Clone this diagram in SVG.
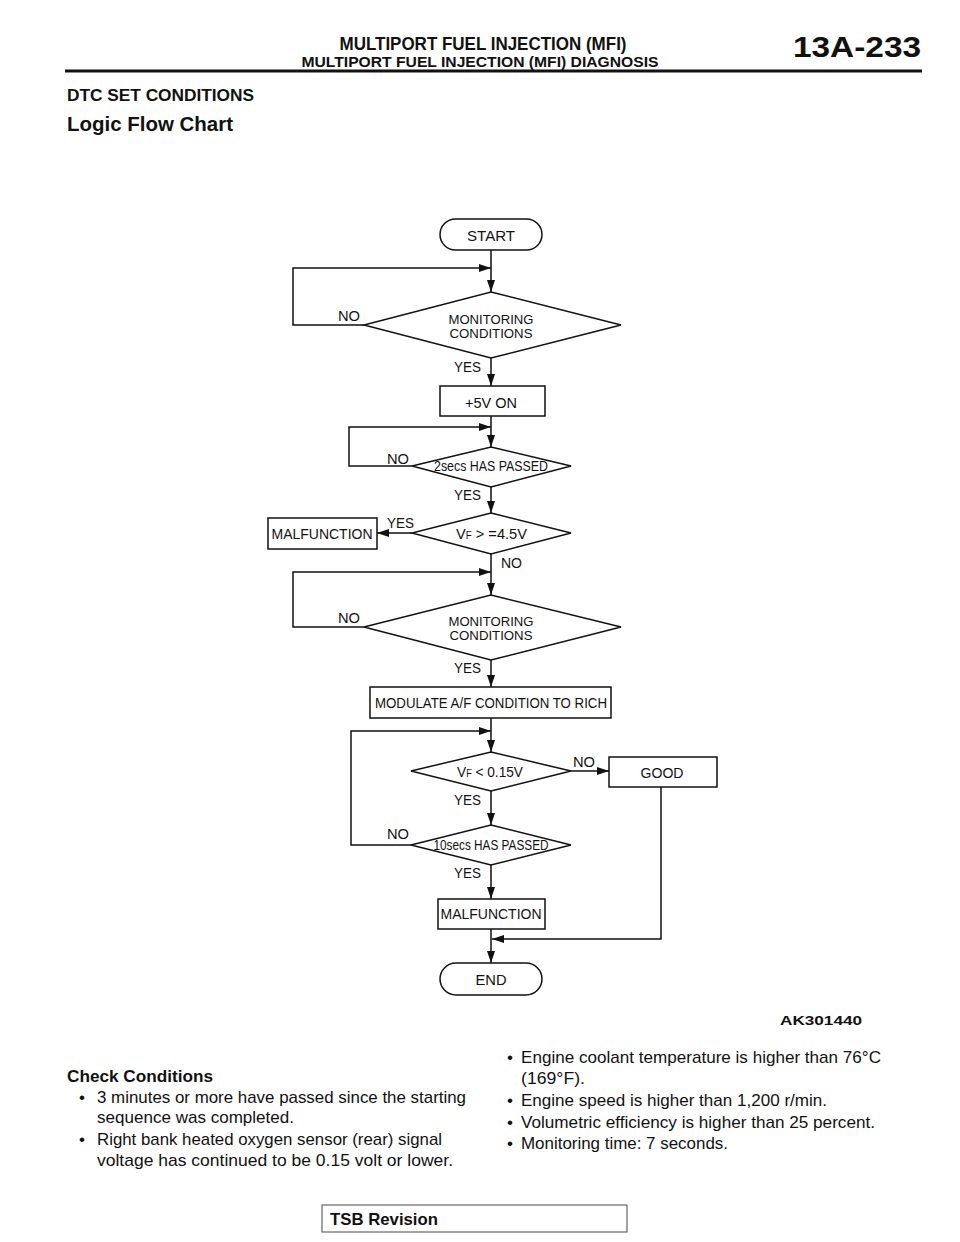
<svg xmlns="http://www.w3.org/2000/svg" width="960" height="1242" viewBox="0 0 960 1242">
<style>
text{font-family:"Liberation Sans",Arial,sans-serif;fill:#111}
.b{font-weight:bold}
.fc{font-size:14px;text-anchor:middle}
.dm{font-size:12.5px;text-anchor:middle}
.lb{font-size:14px}
.sh{fill:#fff;stroke:#111;stroke-width:1.5}
.ln{fill:none;stroke:#111;stroke-width:1.5}
.body{font-size:17px}
</style>
<defs>
<marker id="ah" viewBox="0 0 12 8" refX="12" refY="4" markerWidth="12" markerHeight="8" markerUnits="userSpaceOnUse" orient="auto">
<path d="M0,0 L12,4 L0,8 Z" fill="#111"/>
</marker>
</defs>
<rect width="960" height="1242" fill="#fff"/>
<g id="header">
<text class="b" x="483" y="50" font-size="18" text-anchor="middle" textLength="287" lengthAdjust="spacingAndGlyphs">MULTIPORT FUEL INJECTION (MFI)</text>
<text class="b" x="480" y="67" font-size="15" text-anchor="middle" textLength="357" lengthAdjust="spacingAndGlyphs">MULTIPORT FUEL INJECTION (MFI) DIAGNOSIS</text>
<text class="b" x="793" y="57" font-size="30" textLength="128" lengthAdjust="spacingAndGlyphs">13A-233</text>
<line x1="65" y1="71" x2="922" y2="71" stroke="#111" stroke-width="3"/>
<text class="b" x="67" y="101" font-size="16" textLength="187" lengthAdjust="spacingAndGlyphs">DTC SET CONDITIONS</text>
<text class="b" x="67" y="131" font-size="20" textLength="166" lengthAdjust="spacingAndGlyphs">Logic Flow Chart</text>
</g>
<g id="connectors">
<line class="ln" x1="491" y1="250" x2="491" y2="292" marker-end="url(#ah)"/>
<polyline class="ln" points="364,325 293,325 293,268 491,268" marker-end="url(#ah)"/>
<line class="ln" x1="491" y1="358" x2="491" y2="386" marker-end="url(#ah)"/>
<line class="ln" x1="491" y1="416" x2="491" y2="447" marker-end="url(#ah)"/>
<polyline class="ln" points="412,466 349,466 349,427 491,427" marker-end="url(#ah)"/>
<line class="ln" x1="491" y1="487" x2="491" y2="513" marker-end="url(#ah)"/>
<line class="ln" x1="412" y1="533" x2="377" y2="533" marker-end="url(#ah)"/>
<line class="ln" x1="491" y1="554" x2="491" y2="595" marker-end="url(#ah)"/>
<polyline class="ln" points="364,627 293,627 293,572 491,572" marker-end="url(#ah)"/>
<line class="ln" x1="491" y1="660" x2="491" y2="687" marker-end="url(#ah)"/>
<line class="ln" x1="491" y1="718" x2="491" y2="752" marker-end="url(#ah)"/>
<polyline class="ln" points="411,845 351,845 351,731 491,731" marker-end="url(#ah)"/>
<line class="ln" x1="571" y1="771" x2="609" y2="771" marker-end="url(#ah)"/>
<line class="ln" x1="491" y1="791" x2="491" y2="825" marker-end="url(#ah)"/>
<line class="ln" x1="491" y1="865" x2="491" y2="899" marker-end="url(#ah)"/>
<line class="ln" x1="491" y1="929" x2="491" y2="963" marker-end="url(#ah)"/>
<polyline class="ln" points="661,787 661,939 492,939" marker-end="url(#ah)"/>
<text class="lb" x="338" y="321" textLength="22" lengthAdjust="spacingAndGlyphs">NO</text>
<text class="lb" x="454" y="372" textLength="27" lengthAdjust="spacingAndGlyphs">YES</text>
<text class="lb" x="387" y="464" textLength="22" lengthAdjust="spacingAndGlyphs">NO</text>
<text class="lb" x="454" y="500" textLength="27" lengthAdjust="spacingAndGlyphs">YES</text>
<text class="lb" x="387" y="528" textLength="27" lengthAdjust="spacingAndGlyphs">YES</text>
<text class="lb" x="501" y="568" textLength="21" lengthAdjust="spacingAndGlyphs">NO</text>
<text class="lb" x="338" y="623" textLength="22" lengthAdjust="spacingAndGlyphs">NO</text>
<text class="lb" x="454" y="673" textLength="27" lengthAdjust="spacingAndGlyphs">YES</text>
<text class="lb" x="573" y="767" textLength="22" lengthAdjust="spacingAndGlyphs">NO</text>
<text class="lb" x="454" y="805" textLength="27" lengthAdjust="spacingAndGlyphs">YES</text>
<text class="lb" x="387" y="839" textLength="22" lengthAdjust="spacingAndGlyphs">NO</text>
<text class="lb" x="454" y="878" textLength="27" lengthAdjust="spacingAndGlyphs">YES</text>
</g>
<g id="start">
<rect class="sh" x="440" y="219" width="102" height="31" rx="15.5"/>
<text class="fc" x="491" y="241" font-size="16" textLength="48" lengthAdjust="spacingAndGlyphs">START</text>
</g>
<g id="monitoring1">
<polygon class="sh" points="491,292 621,325 491,358 364,325"/>
<text class="dm" x="491" y="324" textLength="85" lengthAdjust="spacingAndGlyphs">MONITORING</text>
<text class="dm" x="491" y="337.5" textLength="83" lengthAdjust="spacingAndGlyphs">CONDITIONS</text>
</g>
<g id="plus5v">
<rect class="sh" x="440" y="386" width="105" height="30"/>
<text class="fc" x="491" y="408" font-size="15" textLength="52" lengthAdjust="spacingAndGlyphs">+5V ON</text>
</g>
<g id="twosecs">
<polygon class="sh" points="491,447 571,466 491,487 412,466"/>
<text class="fc" x="491" y="471" font-size="13" textLength="114" lengthAdjust="spacingAndGlyphs">2secs HAS PASSED</text>
</g>
<g id="vf45">
<polygon class="sh" points="491,513 571,533 491,554 412,533"/>
<text x="456" y="539" font-size="15" textLength="71" lengthAdjust="spacingAndGlyphs">V<tspan font-size="10">F</tspan> &gt; =4.5V</text>
</g>
<g id="malfunction1">
<rect class="sh" x="268" y="518" width="109" height="31"/>
<text class="fc" x="322" y="539" textLength="101" lengthAdjust="spacingAndGlyphs">MALFUNCTION</text>
</g>
<g id="monitoring2">
<polygon class="sh" points="491,595 621,627 491,660 364,627"/>
<text class="dm" x="491" y="626" textLength="85" lengthAdjust="spacingAndGlyphs">MONITORING</text>
<text class="dm" x="491" y="639.5" textLength="83" lengthAdjust="spacingAndGlyphs">CONDITIONS</text>
</g>
<g id="modulate">
<rect class="sh" x="370" y="687" width="241" height="31"/>
<text class="fc" x="491" y="708" textLength="232" lengthAdjust="spacingAndGlyphs">MODULATE A/F CONDITION TO RICH</text>
</g>
<g id="vf015">
<polygon class="sh" points="491,752 571,771 491,791 411,771"/>
<text x="457" y="777" font-size="15" textLength="66" lengthAdjust="spacingAndGlyphs">V<tspan font-size="10">F</tspan> &lt; 0.15V</text>
</g>
<g id="good">
<rect class="sh" x="609" y="757" width="108" height="30"/>
<text class="fc" x="662" y="778" font-size="15" textLength="43" lengthAdjust="spacingAndGlyphs">GOOD</text>
</g>
<g id="tensecs">
<polygon class="sh" points="491,825 571,845 491,865 411,845"/>
<text class="fc" x="491" y="850" font-size="13" textLength="115" lengthAdjust="spacingAndGlyphs">10secs HAS PASSED</text>
</g>
<g id="malfunction2">
<rect class="sh" x="438" y="899" width="107" height="30"/>
<text class="fc" x="491" y="919" textLength="101" lengthAdjust="spacingAndGlyphs">MALFUNCTION</text>
</g>
<g id="end">
<rect class="sh" x="440" y="963" width="102" height="32" rx="16"/>
<text class="fc" x="491" y="985" font-size="16" textLength="31" lengthAdjust="spacingAndGlyphs">END</text>
</g>
<g id="caption">
<text class="b" x="780" y="1025" font-size="12" textLength="82" lengthAdjust="spacingAndGlyphs">AK301440</text>
</g>
<g id="conditions">
<text class="b" x="67" y="1082" font-size="17" textLength="146" lengthAdjust="spacingAndGlyphs">Check Conditions</text>
<text class="body" x="79" y="1103">•</text>
<text class="body" x="97" y="1103" textLength="369" lengthAdjust="spacingAndGlyphs">3 minutes or more have passed since the starting</text>
<text class="body" x="97" y="1123" textLength="197" lengthAdjust="spacingAndGlyphs">sequence was completed.</text>
<text class="body" x="79" y="1145">•</text>
<text class="body" x="97" y="1145" textLength="345" lengthAdjust="spacingAndGlyphs">Right bank heated oxygen sensor (rear) signal</text>
<text class="body" x="97" y="1166" textLength="356" lengthAdjust="spacingAndGlyphs">voltage has continued to be 0.15 volt or lower.</text>
<text class="body" x="507" y="1063">•</text>
<text class="body" x="521" y="1063" textLength="360" lengthAdjust="spacingAndGlyphs">Engine coolant temperature is higher than 76°C</text>
<text class="body" x="521" y="1084" textLength="64" lengthAdjust="spacingAndGlyphs">(169°F).</text>
<text class="body" x="507" y="1106">•</text>
<text class="body" x="521" y="1106" textLength="306" lengthAdjust="spacingAndGlyphs">Engine speed is higher than 1,200 r/min.</text>
<text class="body" x="507" y="1128">•</text>
<text class="body" x="521" y="1128" textLength="354" lengthAdjust="spacingAndGlyphs">Volumetric efficiency is higher than 25 percent.</text>
<text class="body" x="507" y="1149">•</text>
<text class="body" x="521" y="1149" textLength="207" lengthAdjust="spacingAndGlyphs">Monitoring time: 7 seconds.</text>
</g>
<g id="footer">
<rect x="322" y="1205" width="305" height="27" fill="#fff" stroke="#666" stroke-width="1.2"/>
<text class="b" x="330" y="1225" font-size="17" textLength="108" lengthAdjust="spacingAndGlyphs">TSB Revision</text>
</g>
</svg>
